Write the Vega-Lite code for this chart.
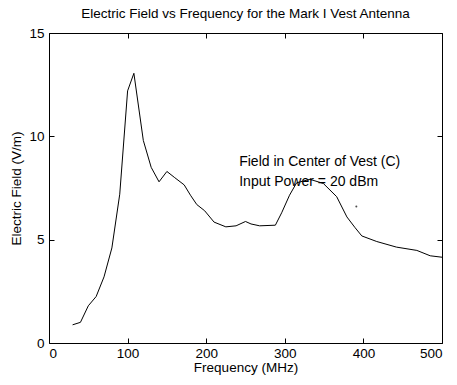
{
  "$schema": "https://vega.github.io/schema/vega-lite/v6.json",
  "width": 393,
  "height": 310,
  "autosize": {"type": "none"},
  "padding": {"left": 49, "top": 33, "right": 15, "bottom": 42},
  "background": "white",
  "title": {"text": "Electric Field vs Frequency for the Mark I Vest Antenna", "fontSize": 13.5, "fontWeight": "normal", "font": "Liberation Sans", "color": "black", "offset": 6},
  "config": {
    "view": {"stroke": "black", "strokeWidth": 1},
    "axis": {"labelFont": "Liberation Sans", "titleFont": "Liberation Sans", "labelFontSize": 13.5, "titleFontSize": 13.5, "titleFontWeight": "normal", "labelColor": "black", "titleColor": "black", "domainColor": "black", "tickColor": "black", "grid": false}
  },
  "datasets": {
    "field": [
      {"f": 30, "E": 0.88}, {"f": 40, "E": 1.0}, {"f": 50, "E": 1.8}, {"f": 60, "E": 2.25},
      {"f": 70, "E": 3.2}, {"f": 80, "E": 4.6}, {"f": 90, "E": 7.2}, {"f": 100, "E": 12.2},
      {"f": 108, "E": 13.05}, {"f": 120, "E": 9.8}, {"f": 130, "E": 8.5}, {"f": 140, "E": 7.8},
      {"f": 150, "E": 8.3}, {"f": 160, "E": 8.0}, {"f": 172, "E": 7.65}, {"f": 180, "E": 7.15},
      {"f": 188, "E": 6.7}, {"f": 198, "E": 6.4}, {"f": 210, "E": 5.85}, {"f": 225, "E": 5.62},
      {"f": 238, "E": 5.67}, {"f": 250, "E": 5.88}, {"f": 257, "E": 5.76}, {"f": 268, "E": 5.67},
      {"f": 288, "E": 5.7}, {"f": 296, "E": 6.3}, {"f": 306, "E": 7.15}, {"f": 315, "E": 7.75},
      {"f": 332, "E": 7.92}, {"f": 349, "E": 7.72}, {"f": 366, "E": 7.08}, {"f": 379, "E": 6.1},
      {"f": 389, "E": 5.6}, {"f": 398, "E": 5.18}, {"f": 417, "E": 4.91}, {"f": 442, "E": 4.64},
      {"f": 468, "E": 4.48}, {"f": 485, "E": 4.22}, {"f": 500, "E": 4.15}
    ],
    "dot": [{"f": 391, "E": 6.6}],
    "notes": [
      {"f": 242, "E": 8.75, "label": "Field in Center of Vest (C)"},
      {"f": 242, "E": 7.78, "label": "Input Power = 20 dBm"}
    ]
  },
  "resolve": {"scale": {"x": "independent", "y": "independent"}},
  "layer": [
    {
      "layer": [
        {
          "data": {"name": "field"},
          "mark": {"type": "line", "color": "black", "strokeWidth": 1},
          "encoding": {
            "x": {"field": "f", "type": "quantitative", "scale": {"domain": [0, 500], "nice": false},
                  "axis": {"title": "Frequency (MHz)", "values": [0, 100, 200, 300, 400, 500], "tickSize": -5, "labelPadding": 8, "titlePadding": 1, "domain": false}},
            "y": {"field": "E", "type": "quantitative", "scale": {"domain": [0, 15], "nice": false},
                  "axis": {"title": "Electric Field (V/m)", "values": [0, 5, 10, 15], "tickSize": -5, "labelPadding": 10, "titlePadding": 5, "domain": false}}
          }
        },
        {
          "data": {"name": "dot"},
          "mark": {"type": "point", "filled": true, "color": "black", "size": 4},
          "encoding": {
            "x": {"field": "f", "type": "quantitative"},
            "y": {"field": "E", "type": "quantitative"}
          }
        },
        {
          "data": {"name": "notes"},
          "mark": {"type": "text", "align": "left", "baseline": "middle", "font": "Liberation Sans", "fontSize": 14, "color": "black"},
          "encoding": {
            "x": {"field": "f", "type": "quantitative"},
            "y": {"field": "E", "type": "quantitative"},
            "text": {"field": "label"}
          }
        }
      ]
    },
    {
      "data": {"name": "field"},
      "mark": {"type": "line", "opacity": 0},
      "encoding": {
        "x": {"field": "f", "type": "quantitative", "scale": {"domain": [0, 500], "nice": false},
              "axis": {"orient": "top", "title": null, "labels": false, "values": [0, 100, 200, 300, 400, 500], "tickSize": -5, "domain": false}},
        "y": {"field": "E", "type": "quantitative", "scale": {"domain": [0, 15], "nice": false},
              "axis": {"orient": "right", "title": null, "labels": false, "values": [0, 5, 10, 15], "tickSize": -5, "domain": false}}
      }
    }
  ]
}
